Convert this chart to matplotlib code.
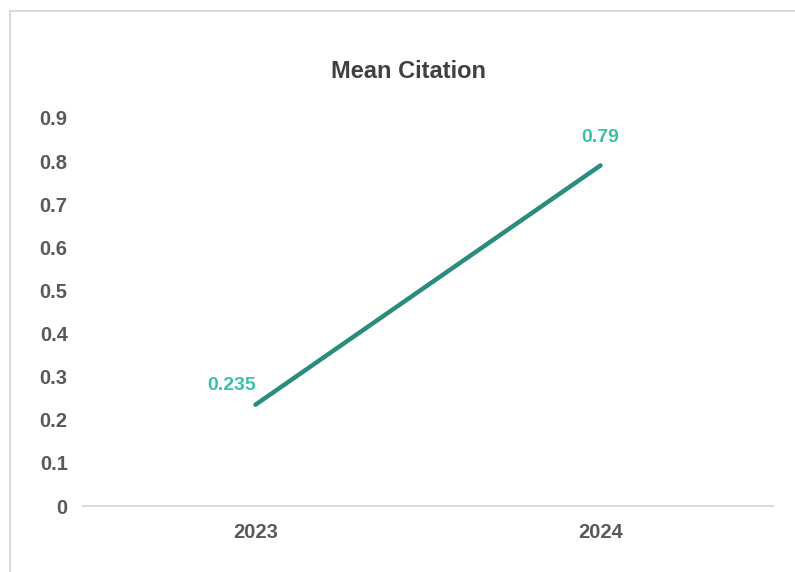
import matplotlib.pyplot as plt
from matplotlib.patches import Rectangle

years = ["2023", "2024"]
mean_citation = [0.235, 0.79]
label_offsets = [(-17, 14), (0, 20)]  # points, where the data labels sit
y_ticks = [0, 0.1, 0.2, 0.3, 0.4, 0.5, 0.6, 0.7, 0.8, 0.9]
y_tick_labels = ["0", "0.1", "0.2", "0.3", "0.4", "0.5", "0.6", "0.7", "0.8", "0.9"]

plt.rcParams["font.family"] = ["Liberation Sans", "DejaVu Sans"]

line_color = "#2A8C7C"
label_color = "#3DBFA6"
tick_color = "#595959"
grid_color = "#D9D9D9"

fig = plt.figure(figsize=(7.95, 5.72), dpi=100)
ax = fig.add_axes([83 / 795, 1 - 506 / 572, 690 / 795, (506 - 118) / 572])

# chart frame, cropped on the right and bottom
fig.patches.append(Rectangle((10 / 795, -0.05), 1.0, 1 - 11 / 572 + 0.05,
                             transform=fig.transFigure, fill=False,
                             edgecolor=grid_color, linewidth=1.5))

x = list(range(len(years)))
ax.plot(x, mean_citation, color=line_color, linewidth=3.2, solid_capstyle="round")

for xi, val, off in zip(x, mean_citation, label_offsets):
    ax.annotate(f"{val:g}", (xi, val), xytext=off, textcoords="offset points",
                ha="center", va="center", color=label_color,
                fontsize=14, fontweight="bold")

ax.set_xlim(-0.5, 1.5)
ax.set_ylim(0, 0.9)
ax.set_xticks(x, years, fontsize=14.5, fontweight="bold", color=tick_color)
ax.set_yticks(y_ticks, y_tick_labels, fontsize=14.5, fontweight="bold", color=tick_color)
ax.tick_params(axis="both", length=0)
ax.tick_params(axis="x", pad=12)
ax.tick_params(axis="y", pad=11)

for side in ["top", "right", "left"]:
    ax.spines[side].set_visible(False)
ax.spines["bottom"].set_color(grid_color)
ax.spines["bottom"].set_linewidth(1.5)

fig.text(0.5135, 1 - 72 / 572, "Mean Citation", ha="center", va="center",
         fontsize=17, fontweight="bold", color="#404040")

fig.savefig("out.png", dpi=100)
